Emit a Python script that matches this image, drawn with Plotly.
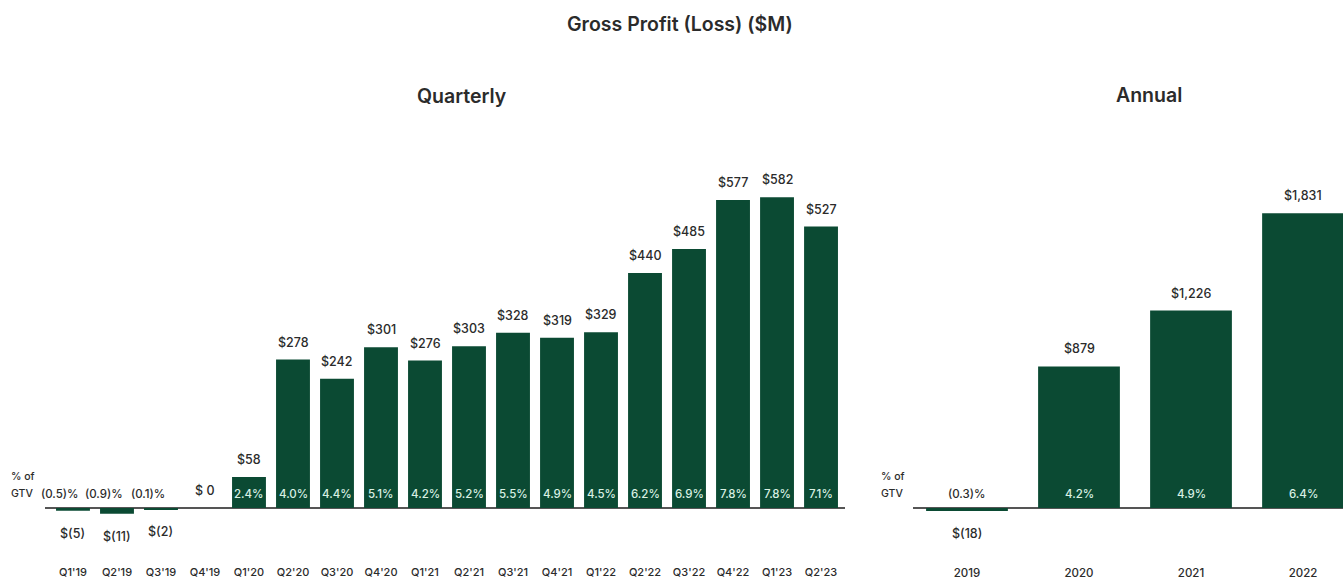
import plotly.graph_objects as go

# ---------------- data ----------------
quarters = ["Q1'19", "Q2'19", "Q3'19", "Q4'19", "Q1'20", "Q2'20", "Q3'20", "Q4'20", "Q1'21",
            "Q2'21", "Q3'21", "Q4'21", "Q1'22", "Q2'22", "Q3'22", "Q4'22", "Q1'23", "Q2'23"]
q_values = [-5, -11, -2, 0, 58, 278, 242, 301, 276, 303, 328, 319, 329, 440, 485, 577, 582, 527]
q_value_labels = ["$(5)", "$(11)", "$(2)", "$ 0", "$58", "$278", "$242", "$301", "$276",
                  "$303", "$328", "$319", "$329", "$440", "$485", "$577", "$582", "$527"]
q_pct_labels = ["(0.5)%", "(0.9)%", "(0.1)%", "", "2.4%", "4.0%", "4.4%", "5.1%", "4.2%",
                "5.2%", "5.5%", "4.9%", "4.5%", "6.2%", "6.9%", "7.8%", "7.8%", "7.1%"]

years = ["2019", "2020", "2021", "2022"]
a_values = [-18, 879, 1226, 1831]
a_value_labels = ["$(18)", "$879", "$1,226", "$1,831"]
a_pct_labels = ["(0.3)%", "4.2%", "4.9%", "6.4%"]

# ---------------- style ----------------
W, H = 1343, 581
BAR = "#0b4a33"
TXT = "#2b2b2b"
PCT_IN = "#d9f0e3"
FONT = "Inter"

fig = go.Figure()
fig.add_trace(go.Bar(x=quarters, y=q_values, marker_color=BAR, width=0.77,
                     xaxis="x", yaxis="y", hoverinfo="skip"))
fig.add_trace(go.Bar(x=years, y=a_values, marker_color=BAR, width=0.73,
                     xaxis="x2", yaxis="y2", hoverinfo="skip"))

ann = []

def add_labels(cats, vals, vlabels, plabels, xr, yr, pshift):
    for i, (c, v, vl, pl) in enumerate(zip(cats, vals, vlabels, plabels)):
        if v >= 0:
            ann.append(dict(x=i, y=v, xref=xr, yref=yr, text=vl, showarrow=False,
                            xanchor="center", yanchor="bottom", yshift=8,
                            font=dict(family=FONT, size=12.5, color=TXT, weight=500)))
        else:
            ann.append(dict(x=i, y=v, xref=xr, yref=yr, text=vl, showarrow=False,
                            xanchor="center", yanchor="top", yshift=-13,
                            font=dict(family=FONT, size=12.5, color=TXT, weight=500)))
        if pl:
            ann.append(dict(x=i, y=0, xref=xr, yref=yr, text=pl, showarrow=False,
                            xanchor="center", yanchor="middle", yshift=14,
                            xshift=(pshift if v < 0 else 0),
                            font=dict(family=FONT, size=11.5, weight=500,
                                      color=(PCT_IN if v > 0 else TXT))))

add_labels(quarters, q_values, q_value_labels, q_pct_labels, "x", "y", -13)
add_labels(years, a_values, a_value_labels, a_pct_labels, "x2", "y2", 0)

def py(px):
    return (H - px) / H

def pxx(px):
    return px / W

def paper_text(x, y, text, size, weight=600, xanchor="center"):
    ann.append(dict(x=pxx(x), y=py(y), xref="paper", yref="paper", text=text,
                    showarrow=False, xanchor=xanchor, yanchor="middle", align="left",
                    font=dict(family=FONT, size=size, color=TXT, weight=weight)))

# titles
paper_text(680, 24, "Gross Profit (Loss) ($M)", 19.5, 600)
paper_text(462, 96, "Quarterly", 19.5, 600)
paper_text(1149, 95, "Annual", 19.5, 600)
# % of GTV row headers
for x0 in (9, 879):
    paper_text(x0, 476, "% of", 10.5, 500, "left")
    paper_text(x0, 494, "GTV", 10.5, 500, "left")

q_scale = 0.534  # px per $M
a_scale = 0.161
base_px, bottom_px, top_px = 508, 564, 120

fig.update_layout(
    template="none",
    width=W, height=H,
    margin=dict(l=0, r=0, t=0, b=0, pad=0),
    paper_bgcolor="white", plot_bgcolor="white",
    showlegend=False,
    annotations=ann,
    xaxis=dict(domain=[pxx(45), pxx(845)], range=[-0.636, 17.545], type="category",
               showgrid=False, showline=False, ticks="", automargin=False,
               tickfont=dict(family=FONT, size=11, color=TXT, weight=500), fixedrange=True),
    yaxis=dict(domain=[py(bottom_px), py(top_px)],
               range=[-(bottom_px - base_px) / q_scale, (base_px - top_px) / q_scale],
               showgrid=False, showticklabels=False, zeroline=True, automargin=False,
               zerolinecolor="#555555", zerolinewidth=1.5, fixedrange=True),
    xaxis2=dict(domain=[pxx(913), 1.0], range=[-0.482, 3.357], type="category",
                anchor="y2", showgrid=False, showline=False, ticks="", automargin=False,
                tickfont=dict(family=FONT, size=11.5, color=TXT, weight=500), fixedrange=True),
    yaxis2=dict(domain=[py(bottom_px), py(top_px)], anchor="x2",
                range=[-(bottom_px - base_px) / a_scale, (base_px - top_px) / a_scale],
                showgrid=False, showticklabels=False, zeroline=True, automargin=False,
                zerolinecolor="#555555", zerolinewidth=1.5, fixedrange=True),
)

fig.write_html("out.html", config={"displayModeBar": False})

# remove default page margin so the figure fills the window exactly
with open("out.html", "r", encoding="utf-8") as f:
    html = f.read()
html = html.replace("<head>", "<head><style>html,body{margin:0;padding:0;overflow:hidden;}</style>", 1)
with open("out.html", "w", encoding="utf-8") as f:
    f.write(html)
